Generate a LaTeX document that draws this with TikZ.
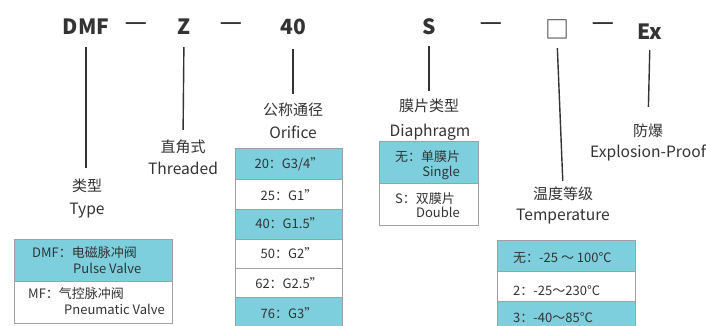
\documentclass[tikz,border=0pt]{standalone}
\usepackage{fontspec}
\setmainfont{Noto Sans CJK SC}
\definecolor{ink}{RGB}{51,51,51}
\definecolor{cyanfill}{RGB}{126,207,221}
\definecolor{cellline}{RGB}{160,160,160}
\tikzset{
  code/.style={font=\fontsize{21}{21}\selectfont\bfseries, text=ink, inner sep=0pt, text height=15pt, text depth=0pt, anchor=base},
  sepdash/.style={font=\fontsize{17}{17}\selectfont\bfseries, text=ink, inner sep=0pt, anchor=base},
  zh/.style={font=\fontsize{15}{15}\selectfont, text=ink, inner sep=0pt, text height=12pt, text depth=2pt},
  en/.style={font=\fontsize{15.6}{15.6}\selectfont, text=ink, inner sep=0pt, anchor=base},
  hicell/.style={draw=cellline, line width=1pt, fill=cyanfill},
  locell/.style={draw=cellline, line width=1pt, fill=white},
  tx/.style={font=\fontsize{13}{13}\selectfont, text=ink, inner sep=0pt},
  conn/.style={draw=ink, line width=1.4pt},
}
\newcommand{\widedash}{\scalebox{1.45}[1]{—}}
\begin{document}
\begin{tikzpicture}[x=1pt,y=-1pt]
\useasboundingbox (0,0) rectangle (706,326);
\clip (0,0) rectangle (706,326);
\fill[white] (0,0) rectangle (706,326);

% top code line
\node[code] (dmf) at (86,35) {DMF};
\node[sepdash] (d1) at (136,29) {\widedash};
\node[code] (z) at (184,35) {Z};
\node[sepdash] (d2) at (231,29) {\widedash};
\node[code] (forty) at (293,35) {40};
\node[code] (s) at (429,35) {S};
\node[sepdash] (d3) at (491,29) {\widedash};
\node[font=\fontsize{24}{24}\selectfont, text=ink, inner sep=0pt, text height=18pt, text depth=0pt, anchor=base] (box) at (557,39) {□};
\node[sepdash] (d4) at (603,29) {\widedash};
\node[code] (ex) at (650,40) {Ex};

% labels
\node[zh] (typezh) at (87,186) {类型};
\node[en] (typeen) at (87,214) {Type};
\node[zh] (zzh) at (183,147) {直角式};
\node[en] (zen) at (183,174) {Threaded};
\node[zh] (orzh) at (293,111) {公称通径};
\node[en] (oren) at (293,139) {Orifice};
\node[zh] (dizh) at (429,107) {膜片类型};
\node[en] (dien) at (430,136) {Diaphragm};
\node[zh] (exzh) at (648,131) {防爆};
\node[en] (exen) at (648,157) {Explosion-Proof};
\node[zh] (tezh) at (563,194) {温度等级};
\node[en] (teen) at (563,220) {Temperature};

% connectors
\draw[conn, shorten <=12pt, shorten >=11pt] (dmf.south) -- (dmf.south |- typezh.north);
\draw[conn, shorten <=12pt, shorten >=10pt] (z.south) -- (zzh.north);
\draw[conn, shorten <=14pt, shorten >=10pt] (forty.south) -- (orzh.north);
\draw[conn, shorten <=11pt, shorten >=9pt] (s.south) -- (dizh.north);
\draw[conn, shorten <=9pt, shorten >=6pt] (box.south) -- (tezh.north);
\draw[conn, shorten <=10pt, shorten >=17pt] (ex.south) -- (exzh.north);

% Type table
\filldraw[hicell] (14,239) rectangle (172,281);
\filldraw[locell] (14,281) rectangle (172,323);
\node[tx, anchor=base west] (t1a) at (32,257) {DMF：电磁脉冲阀};
\node[tx, anchor=base west] (t1b) at (73,273) {Pulse Valve};
\node[tx, anchor=base west] (t2a) at (28,298) {MF：气控脉冲阀};
\node[tx, anchor=base west] (t2b) at (64,314) {Pneumatic Valve};

% Orifice table
\filldraw[hicell] (235,148) rectangle (342,179);
\filldraw[locell] (235,179) rectangle (342,209);
\filldraw[hicell] (235,209) rectangle (342,239);
\filldraw[locell] (235,239) rectangle (342,268);
\filldraw[locell] (235,268) rectangle (342,297);
\filldraw[hicell] (235,297) rectangle (342,330);
\node[tx, anchor=base] (o1) at (289,168) {20：G3/4"};
\node[tx, anchor=base] (o2) at (289,200) {25：G1"};
\node[tx, anchor=base] (o3) at (289,228) {40：G1.5"};
\node[tx, anchor=base] (o4) at (289,258) {50：G2"};
\node[tx, anchor=base] (o5) at (289,288) {62：G2.5"};
\node[tx, anchor=base] (o6) at (289,318) {76：G3"};

% Diaphragm table
\filldraw[hicell] (379,141) rectangle (478,183);
\filldraw[locell] (379,183) rectangle (478,225);
\node[tx, anchor=base west] (s1a) at (395,161) {无：单膜片};
\node[tx, anchor=base east] (s1b) at (460,176) {Single};
\node[tx, anchor=base west] (s2a) at (395,203) {S：双膜片};
\node[tx, anchor=base east] (s2b) at (460,217) {Double};

% Temperature table
\filldraw[hicell] (497,240) rectangle (635,271);
\filldraw[locell] (497,271) rectangle (635,301);
\filldraw[hicell] (497,301) rectangle (635,332);
\node[tx, anchor=base west] (te1) at (513,262) {无：-25 ～ 100℃};
\node[tx, anchor=base west] (te2) at (513,295) {2：-25～230°C};
\node[tx, anchor=base west] (te3) at (513,322) {3：-40～85°C};
\end{tikzpicture}
\end{document}
